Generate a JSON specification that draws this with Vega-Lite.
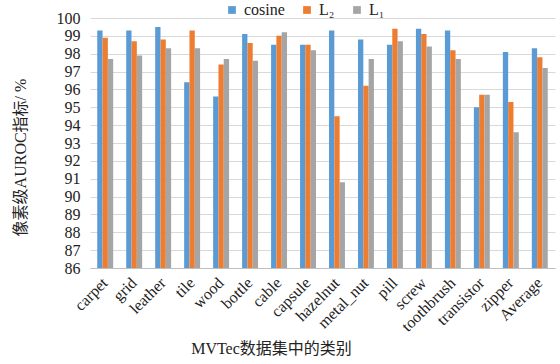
{
  "$schema": "https://vega.github.io/schema/vega-lite/v6.json",
  "width": 465,
  "height": 250,
  "autosize": "none",
  "padding": {"left": 90, "top": 18, "right": 5, "bottom": 96},
  "background": "white",
  "data": {
    "values": [
      {"cat": "carpet", "m": "cosine", "v": 99.3}, {"cat": "carpet", "m": "L₂", "v": 98.9}, {"cat": "carpet", "m": "L₁", "v": 97.7},
      {"cat": "grid", "m": "cosine", "v": 99.3}, {"cat": "grid", "m": "L₂", "v": 98.7}, {"cat": "grid", "m": "L₁", "v": 97.9},
      {"cat": "leather", "m": "cosine", "v": 99.5}, {"cat": "leather", "m": "L₂", "v": 98.8}, {"cat": "leather", "m": "L₁", "v": 98.3},
      {"cat": "tile", "m": "cosine", "v": 96.4}, {"cat": "tile", "m": "L₂", "v": 99.3}, {"cat": "tile", "m": "L₁", "v": 98.3},
      {"cat": "wood", "m": "cosine", "v": 95.6}, {"cat": "wood", "m": "L₂", "v": 97.4}, {"cat": "wood", "m": "L₁", "v": 97.7},
      {"cat": "bottle", "m": "cosine", "v": 99.1}, {"cat": "bottle", "m": "L₂", "v": 98.6}, {"cat": "bottle", "m": "L₁", "v": 97.6},
      {"cat": "cable", "m": "cosine", "v": 98.5}, {"cat": "cable", "m": "L₂", "v": 99.0}, {"cat": "cable", "m": "L₁", "v": 99.2},
      {"cat": "capsule", "m": "cosine", "v": 98.5}, {"cat": "capsule", "m": "L₂", "v": 98.5}, {"cat": "capsule", "m": "L₁", "v": 98.2},
      {"cat": "hazelnut", "m": "cosine", "v": 99.3}, {"cat": "hazelnut", "m": "L₂", "v": 94.5}, {"cat": "hazelnut", "m": "L₁", "v": 90.8},
      {"cat": "metal_nut", "m": "cosine", "v": 98.8}, {"cat": "metal_nut", "m": "L₂", "v": 96.2}, {"cat": "metal_nut", "m": "L₁", "v": 97.7},
      {"cat": "pill", "m": "cosine", "v": 98.5}, {"cat": "pill", "m": "L₂", "v": 99.4}, {"cat": "pill", "m": "L₁", "v": 98.7},
      {"cat": "screw", "m": "cosine", "v": 99.4}, {"cat": "screw", "m": "L₂", "v": 99.1}, {"cat": "screw", "m": "L₁", "v": 98.4},
      {"cat": "toothbrush", "m": "cosine", "v": 99.3}, {"cat": "toothbrush", "m": "L₂", "v": 98.2}, {"cat": "toothbrush", "m": "L₁", "v": 97.7},
      {"cat": "transistor", "m": "cosine", "v": 95.0}, {"cat": "transistor", "m": "L₂", "v": 95.7}, {"cat": "transistor", "m": "L₁", "v": 95.7},
      {"cat": "zipper", "m": "cosine", "v": 98.1}, {"cat": "zipper", "m": "L₂", "v": 95.3}, {"cat": "zipper", "m": "L₁", "v": 93.6},
      {"cat": "Average", "m": "cosine", "v": 98.3}, {"cat": "Average", "m": "L₂", "v": 97.8}, {"cat": "Average", "m": "L₁", "v": 97.2}
    ]
  },
  "mark": {"type": "bar", "clip": true},
  "encoding": {
    "x": {
      "field": "cat", "type": "nominal", "sort": null,
      "scale": {"paddingInner": 0.45, "paddingOuter": 0.25},
      "axis": {
        "title": "MVTec数据集中的类别",
        "titleFont": "Liberation Serif, Noto Sans CJK SC",
        "titleFontSize": 16, "titleFontWeight": "normal", "titleColor": "#222",
        "titleX": 181, "titleY": 72, "titleBaseline": "top",
        "labelAngle": -45, "labelAlign": "right", "labelBaseline": "middle",
        "labelFont": "Liberation Serif", "labelFontSize": 16, "labelColor": "#222",
        "labelPadding": 12, "labelOverlap": false,
        "ticks": false, "domainColor": "#BFBFBF", "grid": false
      }
    },
    "xOffset": {"field": "m", "type": "nominal", "sort": ["cosine", "L₂", "L₁"]},
    "y": {
      "field": "v", "type": "quantitative",
      "scale": {"domain": [86, 100], "zero": false, "nice": false},
      "axis": {
        "title": "像素级AUROC指标/ %",
        "titleFont": "Liberation Serif, Noto Sans CJK SC",
        "titleFontSize": 16, "titleFontWeight": "normal", "titleColor": "#222",
        "titleX": -70, "titleY": 139, "titleAngle": -90, "titleAlign": "center", "titleBaseline": "middle",
        "values": [86, 87, 88, 89, 90, 91, 92, 93, 94, 95, 96, 97, 98, 99, 100],
        "labelFont": "Liberation Serif", "labelFontSize": 16, "labelColor": "#222",
        "labelPadding": 10, "ticks": false, "domain": false,
        "gridColor": "#D9D9D9", "gridWidth": 1
      }
    },
    "color": {
      "field": "m", "type": "nominal",
      "scale": {"domain": ["cosine", "L₂", "L₁"], "range": ["#5B9BD5", "#ED7D31", "#A5A5A5"]},
      "legend": {
        "title": null, "orient": "none", "direction": "horizontal",
        "legendX": 134, "legendY": -16,
        "symbolType": "square", "symbolSize": 60, "symbolStrokeWidth": 0,
        "labelFont": "Liberation Serif", "labelFontSize": 16, "labelColor": "#222",
        "columnPadding": 14
      }
    }
  },
  "config": {"view": {"stroke": null}}
}
